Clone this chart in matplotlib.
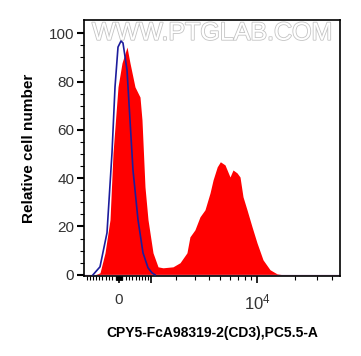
import numpy as np
import matplotlib
matplotlib.use('Agg')
from matplotlib import pyplot as plt
from matplotlib.ticker import FixedLocator, FixedFormatter
import matplotlib.patheffects as pe

plt.rcParams['font.family'] = ['Liberation Sans', 'DejaVu Sans']
plt.rcParams['mathtext.default'] = 'regular'

# stained sample (red filled histogram)
redX = [-1099, -727, -569, -415, -265, -176, -29, 88, 236, 325, 476, 632, 695,
        792, 892, 1064, 1246, 1437, 1857, 2190, 2552, 2720, 3021, 3352, 3707,
        4099, 4351, 4716, 5011, 5478, 6025, 6378, 6878, 7278, 7699, 8297,
        9107, 9997, 11173, 12718, 14475, 16176, 46070]
redY = [0, 0, 0.8, 9.1, 22.8, 50.5, 77.8, 87.7, 94.3, 87.7, 77.8, 73.6, 64.1,
        36.4, 22.8, 9.1, 3.3, 2.9, 3.3, 5.0, 9.1, 15.7, 18.6, 24.0, 26.9,
        33.9, 39.3, 44.7, 46.8, 45.5, 40.5, 43.4, 42.2, 40.5, 32.3, 26.9,
        19.9, 13.2, 6.2, 2.1, 0.4, 0, 0]

# isotype control (blue line)
blueX = [-792, -569, -355, -206, -117, -29, 59, 117, 236, 325, 415, 569, 727,
         892, 1029, 1135]
blueY = [0, 3.3, 17.4, 50.5, 77.8, 94.3, 96.8, 96.0, 84.8, 64.1, 43.4, 22.8,
         9.1, 2.9, 0.8, 0]

xMajor = [0, 1000, 10000]
xMajorLabels = ['0', '', '$10^{4}$']
xMinor = ([-v for v in range(100, 1001, 100)] + [-v for v in range(10, 100, 10)]
          + list(range(10, 100, 10)) + list(range(100, 1000, 100))
          + list(range(2000, 10000, 1000)) + list(range(20000, 100000, 10000)))

fig = plt.figure(figsize=(3.61, 3.56), dpi=100)
ax = fig.add_axes([0.2327, 0.2247, 0.7091, 0.7191])

ax.fill_between(redX, redY, 0, color='#ff0000', linewidth=0, zorder=2)
ax.axhline(0, color='#c8a8d0', linewidth=1.0, zorder=2.5)
ax.plot(blueX, blueY, color='#1c1c9c', linewidth=1.2, zorder=3)

ax.set_xscale('asinh', linear_width=1600)
ax.set_xlim(-1099, 46070)
ax.set_ylim(-0.5, 105.5)

ax.xaxis.set_major_locator(FixedLocator(xMajor))
ax.xaxis.set_major_formatter(FixedFormatter(xMajorLabels))
ax.xaxis.set_minor_locator(FixedLocator(xMinor))
ax.xaxis.set_minor_formatter(FixedFormatter([]))
ax.yaxis.set_major_locator(FixedLocator([0, 20, 40, 60, 80, 100]))
ax.yaxis.set_minor_locator(FixedLocator(list(range(5, 105, 5))))

ax.tick_params(axis='x', which='major', length=5, width=1.2, pad=7,
               labelsize=12, labelcolor='#333333')
ax.tick_params(axis='x', which='minor', length=3, width=0.8)
ax.tick_params(axis='y', which='major', length=5, width=1.5, pad=2,
               labelsize=11, labelcolor='#333333')
ax.tick_params(axis='y', which='minor', length=3, width=0.8)
ax.get_xticklabels()[0].set_fontsize(11)

for s in ax.spines.values():
    s.set_linewidth(1.2)

ax.set_xlabel('CPY5-FcA98319-2(CD3),PC5.5-A', fontsize=10, fontweight='bold',
              labelpad=10)
ax.set_ylabel('Relative cell number', fontsize=11, fontweight='bold', labelpad=9)

ax.text(0.5, 0.95, 'WWW.PTGLAB.COM', transform=ax.transAxes, ha='center',
        va='center', fontsize=18, color='white', zorder=1,
        path_effects=[pe.withStroke(linewidth=1.2, foreground='#c4c4c4')])

fig.savefig('out.png', dpi=100)
